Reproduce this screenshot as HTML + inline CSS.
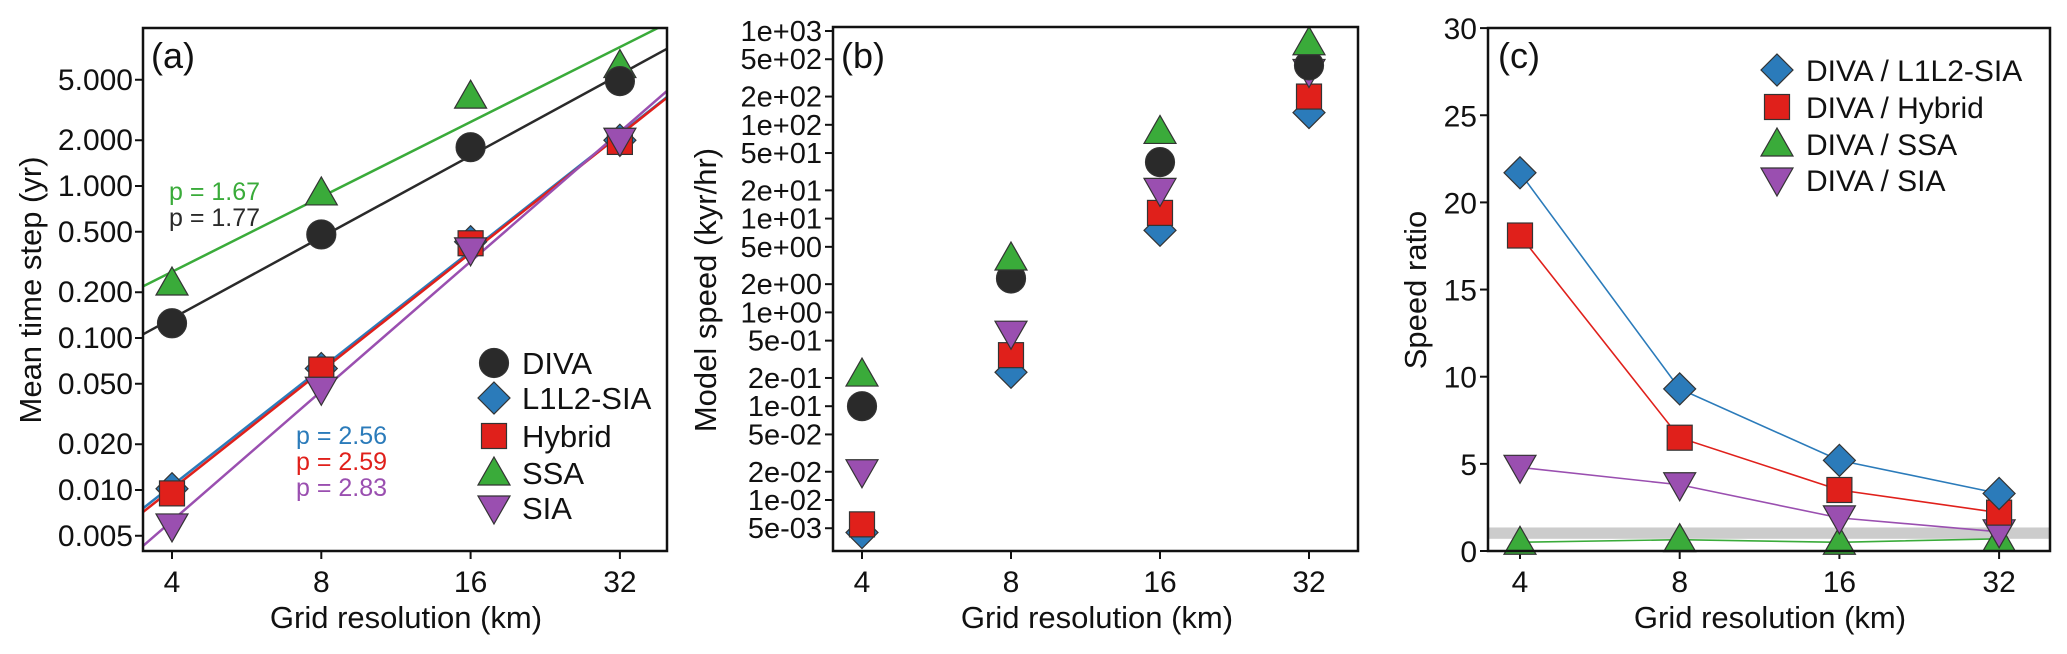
<!DOCTYPE html>
<html><head><meta charset="utf-8"><style>
html,body{margin:0;padding:0;background:#fff;}
svg{display:block;font-family:"Liberation Sans",Arial,sans-serif;}
</style></head><body>
<svg id="fig" width="2067" height="654" viewBox="0 0 2067 654" xmlns="http://www.w3.org/2000/svg">
<defs>
<clipPath id="clipA"><rect x="143" y="28" width="524" height="523"/></clipPath>
</defs>
<g id="pa"></g>
<g id="pb"></g>
<g id="pc"></g>
</svg>
<script>
const resolutions = [4, 8, 16, 32];
const seriesNames = ["DIVA", "L1L2-SIA", "Hybrid", "SSA", "SIA"];
// Panel a: mean time step (yr)
const stepDIVA = [0.125, 0.48, 1.8, 4.9];
const stepL1L2 = [0.0102, 0.063, 0.43, 2.0];
const stepHybrid = [0.0095, 0.062, 0.42, 1.95];
const stepSSA = [0.23, 0.9, 3.9, 6.2];
const stepSIA = [0.0058, 0.046, 0.38, 2.0];
const pLabels = ["p = 1.67", "p = 1.77", "p = 2.56", "p = 2.59", "p = 2.83"];
const ticksA = [5, 2, 1, 0.5, 0.2, 0.1, 0.05, 0.02, 0.01, 0.005];
const tickLabelsA = ["5.000","2.000","1.000","0.500","0.200","0.100","0.050","0.020","0.010","0.005"];
// Panel b: model speed (kyr/hr)
const speedDIVA = [0.1, 2.3, 40, 430];
const speedL1L2 = [0.0045, 0.23, 7.5, 135];
const speedHybrid = [0.0055, 0.35, 11.5, 200];
const speedSSA = [0.22, 3.8, 85, 750];
const speedSIA = [0.02, 0.6, 20, 370];
const ticksB = [1000, 500, 200, 100, 50, 20, 10, 5, 2, 1, 0.5, 0.2, 0.1, 0.05, 0.02, 0.01, 0.005];
const tickLabelsB = ["1e+03","5e+02","2e+02","1e+02","5e+01","2e+01","1e+01","5e+00","2e+00","1e+00","5e-01","2e-01","1e-01","5e-02","2e-02","1e-02","5e-03"];
// Panel c: speed ratio
const ratioL1L2 = [21.7, 9.3, 5.2, 3.3];
const ratioHybrid = [18.1, 6.5, 3.5, 2.2];
const ratioSSA = [0.5, 0.65, 0.5, 0.7];
const ratioSIA = [4.8, 3.8, 1.9, 1.1];
const ratioBand = [0.7, 1.35];
const ticksC = [0, 5, 10, 15, 20, 25, 30];
const legendC = ["DIVA / L1L2-SIA", "DIVA / Hybrid", "DIVA / SSA", "DIVA / SIA"];

const NS = "http://www.w3.org/2000/svg";
const COL = {DIVA:"#2a2a2a", L1L2:"#2b7bba", Hybrid:"#e0201b", SSA:"#3aab3a", SIA:"#9a4fb0"};
function mk(parent, tag, attrs, text){
  const e = document.createElementNS(NS, tag);
  for (const k in attrs) e.setAttribute(k, attrs[k]);
  if (text !== undefined) e.textContent = text;
  parent.appendChild(e);
  return e;
}
function marker(g, kind, x, y, color){
  const st = {fill: color, stroke: "#333", "stroke-width": 1.2};
  let e;
  if (kind === "circle") e = mk(g, "circle", Object.assign({cx:x, cy:y, r:14.5}, st));
  else if (kind === "diamond") e = mk(g, "polygon", Object.assign({points:`${x},${y-16} ${x+16},${y} ${x},${y+16} ${x-16},${y}`}, st));
  else if (kind === "square") e = mk(g, "rect", Object.assign({x:x-12.5, y:y-12.5, width:25, height:25}, st));
  else if (kind === "up") e = mk(g, "polygon", Object.assign({points:`${x},${y-16} ${x+16},${y+12} ${x-16},${y+12}`}, st));
  else e = mk(g, "polygon", Object.assign({points:`${x},${y+16} ${x+16},${y-12} ${x-16},${y-12}`}, st));
  return e;
}
function frame(g, L, T, R, B){
  const r = mk(g, "rect", {x:L, y:T, width:R-L, height:B-T, fill:"none", stroke:"#111", "stroke-width":2.5});
  
  
}
function xTicks(g, xf, B){
  resolutions.forEach(v => {
    const x = xf(v);
    mk(g, "line", {x1:x, y1:B, x2:x, y2:B+8, stroke:"#111", "stroke-width":2});
    const t = mk(g, "text", {x:x, y:592, "font-size":30, "text-anchor":"middle", fill:"#111"}, String(v));
    
    
  });
}
function label(g, x, y, s, size, name, extra){
  const t = mk(g, "text", Object.assign({x:x, y:y, "font-size":size, fill:"#111"}, extra||{}), s);
  
  
  return t;
}

// ---------- Panel A ----------
(function(){
  const g = document.getElementById("pa");
  const L=143, T=28, R=667, B=551;
  const xf = v => 172 + 149.3*Math.log2(v/4);
  const yf = v => 490 - 152*Math.log10(v/0.01);
  ticksA.forEach((v,i) => {
    const y = yf(v);
    mk(g, "line", {x1:L-8, y1:y, x2:L, y2:y, stroke:"#111", "stroke-width":2});
    label(g, 133, y+10, tickLabelsA[i], 30, "y-tick-label", {"text-anchor":"end"});
  });
  xTicks(g, xf, B);
  const series = [
    {d:stepSSA, c:COL.SSA, k:"up"},
    {d:stepDIVA, c:COL.DIVA, k:"circle"},
    {d:stepL1L2, c:COL.L1L2, k:"diamond"},
    {d:stepHybrid, c:COL.Hybrid, k:"square"},
    {d:stepSIA, c:COL.SIA, k:"down"}
  ];
  const lines = mk(g, "g", {"clip-path":"url(#clipA)"});
  series.forEach(s => {
    const lx = resolutions.map(v => Math.log10(v)), ly = s.d.map(v => Math.log10(v));
    const n = lx.length, mx = lx.reduce((a,b)=>a+b)/n, my = ly.reduce((a,b)=>a+b)/n;
    let num=0, den=0; for (let i=0;i<n;i++){num+=(lx[i]-mx)*(ly[i]-my); den+=(lx[i]-mx)**2;}
    const p = num/den, b0 = my - p*mx;
    const f = v => Math.pow(10, b0 + p*Math.log10(v));
    const x0 = 3.4, x1 = 40;
    const ln = mk(lines, "line", {x1:xf(x0), y1:yf(f(x0)), x2:xf(x1), y2:yf(f(x1)), stroke:s.c, "stroke-width":2.5});
    
    
  });
  series.forEach(s => {
    s.d.forEach((v,i) => {
      const m = marker(g, s.k, xf(resolutions[i]), yf(v), s.c);
      
      
    });
  });
  frame(g, L, T, R, B);
  const pCols = [COL.SSA, COL.DIVA, COL.L1L2, COL.Hybrid, COL.SIA];
  const pY = [200, 226, 444, 470, 496];
  const pX = [169, 169, 296, 296, 296];
  pLabels.forEach((s,i) => {
    label(g, pX[i], pY[i], s, 25, "exponent-label", {fill:pCols[i]});
  });
  label(g, 151, 68, "(a)", 36, "panel-label");
  label(g, 0, 0, "Mean time step (yr)", 31, "y-axis-title", {transform:"translate(41,290) rotate(-90)", "text-anchor":"middle"});
  label(g, 406, 628, "Grid resolution (km)", 31, "x-axis-title", {"text-anchor":"middle"});
  const legK = ["circle","diamond","square","up","down"];
  const legC = [COL.DIVA, COL.L1L2, COL.Hybrid, COL.SSA, COL.SIA];
  const legY = [363, 398, 436, 473, 508];
  seriesNames.forEach((s,i) => {
    const lg = mk(g, "g", {});
    
    
    marker(lg, legK[i], 494, legY[i], legC[i]);
    mk(lg, "text", {x:522, y:legY[i]+11, "font-size":31, fill:"#111"}, s);
  });
})();

// ---------- Panel B ----------
(function(){
  const g = document.getElementById("pb");
  const L=833, T=27, R=1358, B=551;
  const xf = v => 862 + 149*Math.log2(v/4);
  const yf = v => 500 - 93.8*Math.log10(v/0.01);
  ticksB.forEach((v,i) => {
    const y = yf(v);
    mk(g, "line", {x1:L-8, y1:y, x2:L, y2:y, stroke:"#111", "stroke-width":2});
    label(g, 822, y+10, tickLabelsB[i], 29, "y-tick-label", {"text-anchor":"end"});
  });
  xTicks(g, xf, B);
  const series = [
    {d:speedL1L2, c:COL.L1L2, k:"diamond"},
    {d:speedHybrid, c:COL.Hybrid, k:"square"},
    {d:speedSIA, c:COL.SIA, k:"down"},
    {d:speedDIVA, c:COL.DIVA, k:"circle"},
    {d:speedSSA, c:COL.SSA, k:"up"}
  ];
  series.forEach(s => {
    s.d.forEach((v,i) => {
      const m = marker(g, s.k, xf(resolutions[i]), yf(v), s.c);
      
      
    });
  });
  frame(g, L, T, R, B);
  label(g, 841, 68, "(b)", 36, "panel-label");
  label(g, 0, 0, "Model speed (kyr/hr)", 31, "y-axis-title", {transform:"translate(716,290) rotate(-90)", "text-anchor":"middle"});
  label(g, 1097, 628, "Grid resolution (km)", 31, "x-axis-title", {"text-anchor":"middle"});
})();

// ---------- Panel C ----------
(function(){
  const g = document.getElementById("pc");
  const L=1488, T=28, R=2050, B=551;
  const xf = v => 1520 + 159.7*Math.log2(v/4);
  const yf = v => 551 - 17.43*v;
  const band = mk(g, "rect", {x:L, y:yf(ratioBand[1]), width:R-L, height:yf(ratioBand[0])-yf(ratioBand[1]), fill:"#cccccc"});
  
  
  ticksC.forEach(v => {
    const y = yf(v);
    mk(g, "line", {x1:L-8, y1:y, x2:L, y2:y, stroke:"#111", "stroke-width":2});
    label(g, 1477, y+11, String(v), 30, "y-tick-label", {"text-anchor":"end"});
  });
  xTicks(g, xf, B);
  const series = [
    {d:ratioSSA, c:COL.SSA, k:"up"},
    {d:ratioSIA, c:COL.SIA, k:"down"},
    {d:ratioHybrid, c:COL.Hybrid, k:"square"},
    {d:ratioL1L2, c:COL.L1L2, k:"diamond"}
  ];
  series.forEach(s => {
    const pts = s.d.map((v,i) => xf(resolutions[i]) + "," + yf(v)).join(" ");
    const pl = mk(g, "polyline", {points:pts, fill:"none", stroke:s.c, "stroke-width":1.6});
    
    
  });
  series.forEach(s => {
    s.d.forEach((v,i) => {
      const m = marker(g, s.k, xf(resolutions[i]), yf(v), s.c);
      
      
    });
  });
  frame(g, L, T, R, B);
  label(g, 1498, 68, "(c)", 36, "panel-label");
  label(g, 0, 0, "Speed ratio", 31, "y-axis-title", {transform:"translate(1426,290) rotate(-90)", "text-anchor":"middle"});
  label(g, 1770, 628, "Grid resolution (km)", 31, "x-axis-title", {"text-anchor":"middle"});
  const legK = ["diamond","square","up","down"];
  const legCol = [COL.L1L2, COL.Hybrid, COL.SSA, COL.SIA];
  const legY = [70, 107, 144, 180];
  legendC.forEach((s,i) => {
    const lg = mk(g, "g", {});
    
    
    marker(lg, legK[i], 1777, legY[i], legCol[i]);
    mk(lg, "text", {x:1806, y:legY[i]+11, "font-size":30, fill:"#111"}, s);
  });
})();
</script>
</body></html>
